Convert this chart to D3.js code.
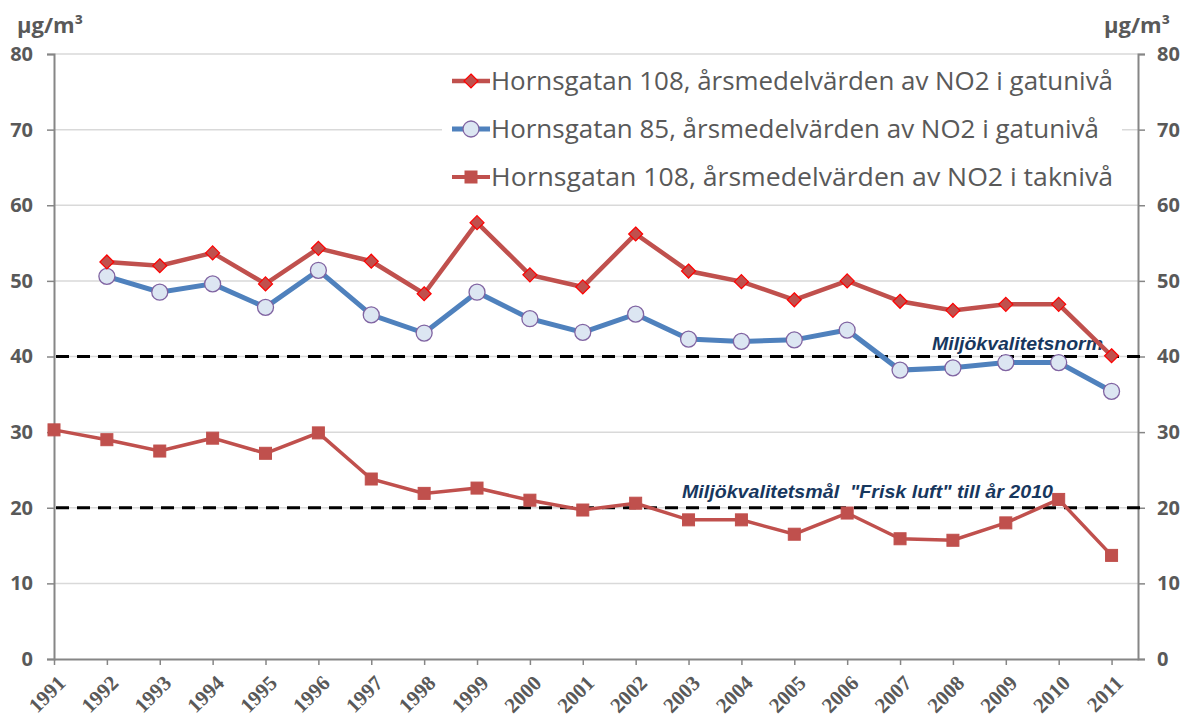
<!DOCTYPE html>
<html>
<head>
<meta charset="utf-8">
<script src="https://cdn.jsdelivr.net/npm/d3@7"></script>
<style>
  body { margin: 0; background: #fff; }
  svg { display: block; }
</style>
</head>
<body>
<svg width="1187" height="718"></svg>
<script>
// data
let years = d3.range(1991, 2012);
let gata108 = [null, 52.5, 52.0, 53.7, 49.6, 54.3, 52.6, 48.3, 57.7, 50.8, 49.2, 56.2, 51.3, 49.9, 47.5, 50.0, 47.3, 46.1, 46.9, 46.9, 40.1];
let gata85 = [null, 50.6, 48.5, 49.6, 46.5, 51.4, 45.5, 43.1, 48.5, 45.0, 43.2, 45.6, 42.3, 42.0, 42.2, 43.5, 38.2, 38.5, 39.2, 39.2, 35.4];
let tak108 = [30.3, 29.0, 27.5, 29.2, 27.2, 29.9, 23.8, 21.9, 22.6, 21.0, 19.7, 20.6, 18.4, 18.4, 16.5, 19.3, 15.9, 15.7, 18.0, 21.1, 13.7];
let yTicks = [0, 10, 20, 30, 40, 50, 60, 70, 80];
let legendLabels = [
    "Hornsgatan 108, årsmedelvärden av NO2 i gatunivå",
    "Hornsgatan 85, årsmedelvärden av NO2 i gatunivå",
    "Hornsgatan 108, årsmedelvärden av NO2 i taknivå"
];
let normer = [
    {v: 40, text: "Miljökvalitetsnorm"},
    {v: 20, text: "Miljökvalitetsmål  \"Frisk luft\" till år 2010"}
];

let svg = d3.select("svg");
let gris = "#595959";

let x = d3.scaleLinear().domain([1991, 2011.5]).range([54, 1138]);
let y = d3.scaleLinear().domain([0, 80]).range([659, 54]);

// gridlines
svg.append("g")
    .selectAll("line")
    .data(yTicks.filter(d => d > 0))
    .join("line")
    .attr("x1", x(1991)).attr("x2", x(2011.5))
    .attr("y1", d => y(d)).attr("y2", d => y(d))
    .attr("stroke", "#d9d9d9")
    .attr("stroke-width", 1.5);

// axes
let axeG = svg.append("g")
    .attr("transform", `translate(${x(1991)},0)`)
    .call(d3.axisLeft(y).tickValues(yTicks).tickSize(7).tickPadding(14));
let axeD = svg.append("g")
    .attr("transform", `translate(${x(2011.5)},0)`)
    .call(d3.axisRight(y).tickValues(yTicks).tickSize(7).tickPadding(12));
let axeX = svg.append("g")
    .attr("transform", `translate(0,${y(0)})`)
    .call(d3.axisBottom(x).tickValues(years).tickFormat(d3.format("d")).tickSize(6).tickSizeOuter(0));

[axeG, axeD, axeX].forEach(g => {
    g.select(".domain").attr("stroke", "#868686").attr("stroke-width", 2);
    g.selectAll(".tick line").attr("stroke", "#868686").attr("stroke-width", 1.5);
});
[axeG, axeD].forEach(g => {
    g.selectAll(".tick text")
        .attr("fill", gris)
        .style("font", "bold 20px 'Open Sans', sans-serif");
});
axeX.selectAll(".tick text")
    .attr("fill", gris)
    .attr("text-anchor", "end")
    .attr("dx", 0).attr("dy", 0)
    .attr("transform", "translate(6,19) rotate(-45)")
    .style("font", "bold 21px 'Liberation Serif', 'Times New Roman', serif");

// unités
svg.append("text").attr("x", 17).attr("y", 33).text("µg/m³")
    .attr("fill", gris).attr("textLength", 66).attr("lengthAdjust", "spacingAndGlyphs")
    .style("font", "bold 21px 'Open Sans', sans-serif");
svg.append("text").attr("x", 1104).attr("y", 33).text("µg/m³")
    .attr("fill", gris).attr("textLength", 66).attr("lengthAdjust", "spacingAndGlyphs")
    .style("font", "bold 21px 'Open Sans', sans-serif");

// lignes de norme
normer.forEach(n => {
    svg.append("line")
        .attr("x1", x(1991) + 2).attr("x2", x(2011.5) + 2)
        .attr("y1", y(n.v)).attr("y2", y(n.v))
        .attr("stroke", "#000")
        .attr("stroke-width", 3)
        .attr("stroke-dasharray", "13,8");
});
svg.append("text").attr("x", 932).attr("y", y(40) - 7)
    .text(normer[0].text).attr("fill", "#17375e")
    .attr("textLength", 171).attr("lengthAdjust", "spacingAndGlyphs")
    .style("font", "italic bold 18px 'Liberation Sans', Arial, sans-serif");
svg.append("text").attr("x", 682).attr("y", y(20) - 10)
    .text(normer[1].text).attr("fill", "#17375e")
    .attr("textLength", 371).attr("lengthAdjust", "spacingAndGlyphs")
    .style("white-space", "pre")
    .style("font", "italic bold 18px 'Liberation Sans', Arial, sans-serif");

// séries
let ligne = d3.line()
    .defined(d => d.v != null)
    .x(d => x(d.year))
    .y(d => y(d.v));

function points(vals) {
    return years.map((yr, i) => ({year: yr, v: vals[i]})).filter(d => d.v != null);
}

let s1 = points(gata108), s2 = points(gata85), s3 = points(tak108);

svg.append("path").datum(s3).attr("d", ligne)
    .attr("fill", "none").attr("stroke", "#c0504d").attr("stroke-width", 3.5);
svg.append("path").datum(s2).attr("d", ligne)
    .attr("fill", "none").attr("stroke", "#4f81bd").attr("stroke-width", 5);
svg.append("path").datum(s1).attr("d", ligne)
    .attr("fill", "none").attr("stroke", "#c0504d").attr("stroke-width", 4.5);

function carre(g) {
    g.append("rect").attr("x", -6).attr("y", -6).attr("width", 12).attr("height", 12)
        .attr("fill", "#c0504d").attr("stroke", "#c0504d").attr("stroke-width", 1);
}
function losange(g) {
    g.append("path").attr("d", "M0,-7L7,0L0,7L-7,0Z")
        .attr("fill", "#c0504d").attr("stroke", "#ff0000").attr("stroke-width", 1.2);
}
function rond(g) {
    g.append("circle").attr("r", 8)
        .attr("fill", "#dce6f2").attr("stroke", "#8064a2").attr("stroke-width", 1.3);
}

svg.append("g").selectAll("g").data(s3).join("g")
    .attr("transform", d => `translate(${x(d.year)},${y(d.v)})`).call(carre);
svg.append("g").selectAll("g").data(s2).join("g")
    .attr("transform", d => `translate(${x(d.year)},${y(d.v)})`).call(rond);
svg.append("g").selectAll("g").data(s1).join("g")
    .attr("transform", d => `translate(${x(d.year)},${y(d.v)})`).call(losange);

// légende
let leg = svg.append("g");
leg.append("rect").attr("x", 442).attr("y", 57).attr("width", 680).attr("height", 142).attr("fill", "#fff");
let styles = [
    {couleur: "#c0504d", w: 4.5, marque: losange},
    {couleur: "#4f81bd", w: 5, marque: rond},
    {couleur: "#c0504d", w: 4, marque: carre}
];
legendLabels.forEach((lab, i) => {
    let cy = 81 + i * 48;
    let g = leg.append("g");
    g.append("line").attr("x1", 452).attr("x2", 490).attr("y1", cy).attr("y2", cy)
        .attr("stroke", styles[i].couleur).attr("stroke-width", styles[i].w);
    g.append("g").attr("transform", `translate(471,${cy})`).call(styles[i].marque);
    g.append("text").attr("x", 491).attr("y", cy + 9).text(lab)
        .attr("fill", gris)
        .attr("textLength", i == 1 ? 608 : 622).attr("lengthAdjust", "spacingAndGlyphs")
        .style("font", "26px 'Open Sans', sans-serif");
});
</script>
</body>
</html>
